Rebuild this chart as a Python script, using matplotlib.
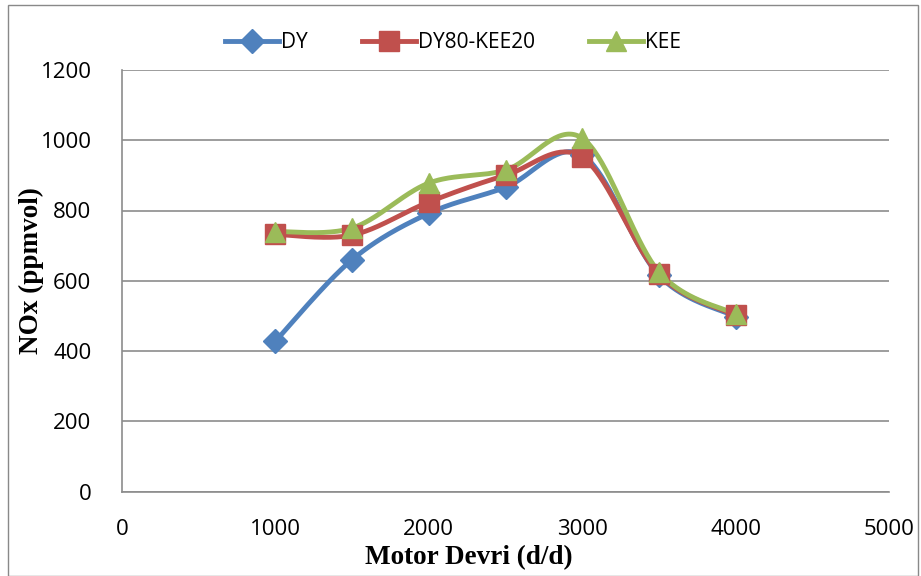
import numpy as np
import matplotlib
matplotlib.use("Agg")
import matplotlib.pyplot as plt
from matplotlib.patches import Rectangle

rpm = [1000, 1500, 2000, 2500, 3000, 3500, 4000]
dy = [428, 660, 792, 866, 958, 615, 498]
dy80_kee20 = [732, 730, 824, 900, 952, 618, 502]
kee = [740, 750, 878, 915, 1006, 625, 505]
series_names = ["DY", "DY80-KEE20", "KEE"]
x_ticks = [0, 1000, 2000, 3000, 4000, 5000]
y_ticks = [0, 200, 400, 600, 800, 1000, 1200]

colors = ["#4F81BD", "#C0504D", "#9BBB59"]
markers = ["D", "s", "^"]
msizes = [12, 14, 15]


def smooth(x, y, n=40):
    # Excel-style Catmull-Rom Bezier smoothing
    x = np.asarray(x, float); y = np.asarray(y, float)
    px = np.concatenate([[x[0]], x, [x[-1]]])
    py = np.concatenate([[y[0]], y, [y[-1]]])
    xs, ys = [], []
    t = np.linspace(0, 1, n)
    for i in range(1, len(px) - 2):
        p0 = np.array([px[i], py[i]]); p3 = np.array([px[i + 1], py[i + 1]])
        p1 = p0 + (np.array([px[i + 1], py[i + 1]]) - np.array([px[i - 1], py[i - 1]])) / 6
        p2 = p3 - (np.array([px[i + 2], py[i + 2]]) - np.array([px[i], py[i]])) / 6
        b = ((1 - t) ** 3)[:, None] * p0 + (3 * (1 - t) ** 2 * t)[:, None] * p1 \
            + (3 * (1 - t) * t ** 2)[:, None] * p2 + (t ** 3)[:, None] * p3
        xs.extend(b[:, 0]); ys.extend(b[:, 1])
    return np.array(xs), np.array(ys)


fig = plt.figure(figsize=(9.21, 5.76), dpi=100)
ax = fig.add_axes([122 / 921, 1 - 491.5 / 576, (889 - 122) / 921, (491.5 - 70) / 576])

fig.patches.append(Rectangle((8 / 921, 0), (918 - 8) / 921, 1 - 5 / 576,
                             transform=fig.transFigure, fill=False,
                             edgecolor="#898989", linewidth=1.0))

handles = []
for vals, name, c, m, ms in zip([dy, dy80_kee20, kee], series_names, colors, markers, msizes):
    sx, sy = smooth(rpm, vals)
    ax.plot(sx, sy, color=c, linewidth=3.5, solid_capstyle="round", zorder=3)
    ax.plot(rpm, vals, linestyle="none", marker=m, markersize=ms, color=c,
            markeredgecolor=c, zorder=4)
    h, = ax.plot([], [], color=c, linewidth=3.5, marker=m, markersize=ms,
                 markeredgecolor=c)
    handles.append(h)

ax.set_xlim(0, 5000)
ax.set_ylim(0, 1200)
ax.set_xticks(x_ticks)
ax.set_yticks(y_ticks)
tick_font = dict(family=["Open Sans", "DejaVu Sans"], size=16)
ax.set_xticklabels([str(v) for v in x_ticks], **tick_font)
ax.set_yticklabels([str(v) for v in y_ticks], **tick_font)
ax.tick_params(length=0)
ax.tick_params(axis="y", pad=22)
ax.tick_params(axis="x", pad=20)
ax.grid(axis="y", color="#8c8c8c", linewidth=1.2)
ax.set_axisbelow(True)
for s in ["top", "right"]:
    ax.spines[s].set_visible(False)
for s in ["left", "bottom"]:
    ax.spines[s].set_color("#8c8c8c")
    ax.spines[s].set_linewidth(1.2)

ax.set_xlabel("Motor Devri (d/d)", family="Liberation Serif", fontweight="bold",
              fontsize=19.5)
ax.xaxis.set_label_coords((469 - 122) / (889 - 122), -(558 - 491.5) / (491.5 - 70))
ax.xaxis.label.set_va("center")
ax.set_ylabel("NOx (ppmvol)", family="Liberation Serif", fontweight="bold",
              fontsize=19.5)
ax.yaxis.set_label_coords(-(122 - 31) / (889 - 122), (491.5 - 271) / (491.5 - 70))
ax.yaxis.label.set_va("center")

fig.legend(handles, series_names, loc="center", bbox_to_anchor=(453 / 921, 1 - 43 / 576),
           ncol=3, frameon=False, handlelength=2.6, columnspacing=2.6, handletextpad=0.1,
           prop=dict(family=["Open Sans", "DejaVu Sans"], size=15))

fig.savefig("out.png", dpi=100)
